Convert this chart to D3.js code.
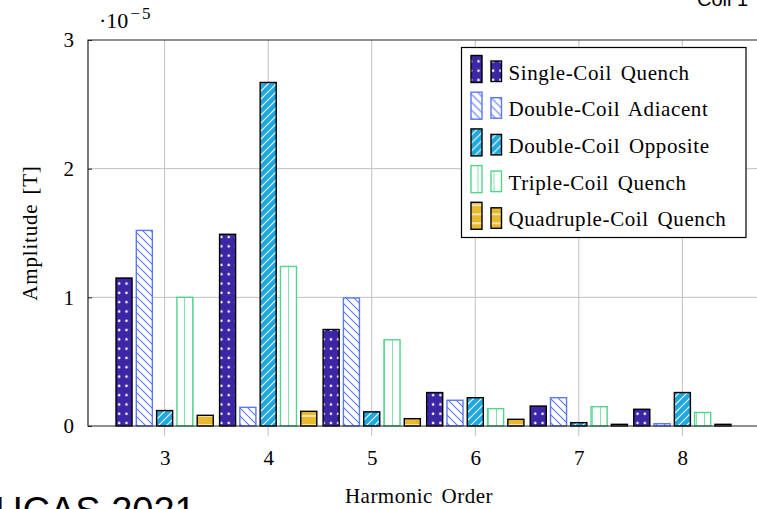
<!DOCTYPE html>
<html>
<head>
<meta charset="utf-8">
<script src="https://cdn.jsdelivr.net/npm/d3@7"></script>
<style>
  body { margin: 0; background: #fff; }
  svg { display: block; }
  text { font-family: "Liberation Serif", "Times New Roman", serif; fill: #000; }
</style>
</head>
<body>
<div id="chart"></div>
<script>
// harmonic orders on x, amplitudes in units of 1e-5 T
var harmonics = [3, 4, 5, 6, 7, 8];
var singleCoil   = [1.15, 1.49, 0.75, 0.26, 0.155, 0.13];
var doubleAdj    = [1.52, 0.145, 0.995, 0.20, 0.22, 0.018];
var doubleOpp    = [0.12, 2.67, 0.11, 0.22, 0.026, 0.26];
var tripleCoil   = [1.0, 1.24, 0.67, 0.135, 0.15, 0.105];
var quadCoil     = [0.083, 0.114, 0.057, 0.052, 0.013, 0.013];
var yTicks = [0, 1, 2, 3];
var seriesNames = ["Single-Coil Quench", "Double-Coil Adiacent", "Double-Coil Opposite",
                   "Triple-Coil Quench", "Quadruple-Coil Quench"];

var width = 757, height = 509;
var margin = { top: 40, right: -2, bottom: 83, left: 88 };

var svg = d3.select("#chart").append("svg")
    .attr("width", width)
    .attr("height", height);

var defs = svg.append("defs");

// fill patterns, roughly like the pgfplots ones
function linePattern(id, bg, stroke, w, h, path, sw) {
    var p = defs.append("pattern")
        .attr("id", id)
        .attr("patternUnits", "userSpaceOnUse")
        .attr("width", w).attr("height", h);
    p.append("rect").attr("width", w).attr("height", h).attr("fill", bg);
    p.append("path").attr("d", path).attr("stroke", stroke)
        .attr("stroke-width", sw).attr("fill", "none");
}

var dots = defs.append("pattern")
    .attr("id", "pDots")
    .attr("patternUnits", "userSpaceOnUse")
    .attr("width", 7.3).attr("height", 9.3)
    .attr("x", 115.5).attr("y", 0);
dots.append("rect").attr("width", 7.3).attr("height", 9.3).attr("fill", "#3c26a6");
dots.append("circle").attr("cx", 3.7).attr("cy", 4.6).attr("r", 1.3).attr("fill", "#fff");

linePattern("pNW", "#fff", "#5b78f5", 8, 8, "M-1,-1 L9,9 M-9,-1 L1,9 M7,-1 L17,9", 1.1);
linePattern("pNE", "#1fa8db", "#fff", 8, 8, "M-1,9 L9,-1 M-9,9 L1,-1 M7,9 L17,-1", 1.1);
linePattern("pVert", "#fff", "#52d48c", 8, 8, "M0,0 L0,8", 1.4);
linePattern("pHor", "#e8b92c", "#fff", 8, 9, "M0,2 L8,2", 1.2);

var series = [
    { name: seriesNames[0], values: singleCoil, fill: "url(#pDots)", stroke: "#000" },
    { name: seriesNames[1], values: doubleAdj,  fill: "url(#pNW)",   stroke: "#5b78f5" },
    { name: seriesNames[2], values: doubleOpp,  fill: "url(#pNE)",   stroke: "#000" },
    { name: seriesNames[3], values: tripleCoil, fill: "url(#pVert)", stroke: "#52d48c" },
    { name: seriesNames[4], values: quadCoil,   fill: "url(#pHor)",  stroke: "#000" }
];

var x = d3.scaleLinear()
    .domain([2.26, 8.74])
    .range([margin.left, width - margin.right]);

var y = d3.scaleLinear()
    .domain([0, 3])
    .range([height - margin.bottom, margin.top]);

var barStep = 0.196, barW = x(0.155) - x(0);

// grid
var grid = svg.append("g").attr("class", "grid");
grid.selectAll(".vgrid")
    .data(harmonics)
    .enter().append("line")
    .attr("x1", function(d){ return x(d); })
    .attr("x2", function(d){ return x(d); })
    .attr("y1", y(3)).attr("y2", y(0) + 10)
    .attr("stroke", "#c0c0c0").attr("stroke-width", 1);
grid.selectAll(".hgrid")
    .data(yTicks.slice(1, 3))
    .enter().append("line")
    .attr("x1", x.range()[0]).attr("x2", x.range()[1])
    .attr("y1", function(d){ return y(d); })
    .attr("y2", function(d){ return y(d); })
    .attr("stroke", "#c0c0c0").attr("stroke-width", 1);

// bars
series.forEach(function(s, si) {
    svg.append("g").selectAll("rect")
        .data(s.values)
        .enter().append("rect")
        .attr("x", function(d, i){ return x(harmonics[i] + (si - 2) * barStep) - barW / 2; })
        .attr("y", function(d){ return y(d); })
        .attr("width", barW)
        .attr("height", function(d){ return y(0) - y(d); })
        .attr("fill", s.fill)
        .attr("stroke", s.stroke)
        .attr("stroke-width", 1.4);
});

// axes frame
svg.append("path")
    .attr("d", "M" + x.range()[1] + "," + y(3) + " H" + x.range()[0] + " V" + y(0) + " H" + x.range()[1])
    .attr("fill", "none").attr("stroke", "#222").attr("stroke-width", 1.2);

var yAxis = svg.append("g")
    .attr("transform", "translate(" + margin.left + ",0)")
    .call(d3.axisLeft(y).tickValues(yTicks).tickFormat(d3.format("d")).tickSize(-4).tickPadding(14));
yAxis.select(".domain").remove();
yAxis.selectAll(".tick line").attr("stroke", "#222");
yAxis.selectAll("text").style("font-size", "21px").attr("font-family", null);

var xAxis = svg.append("g")
    .attr("transform", "translate(0," + y(0) + ")")
    .call(d3.axisBottom(x).tickValues(harmonics).tickFormat(d3.format("d")).tickSize(0).tickPadding(24));
xAxis.select(".domain").remove();
xAxis.selectAll("text").style("font-size", "21px").attr("font-family", null);

// axis labels
svg.append("text")
    .attr("x", 419).attr("y", 503)
    .attr("text-anchor", "middle")
    .style("font-size", "21px")
    .style("letter-spacing", "0.5px")
    .style("word-spacing", "3px")
    .text("Harmonic Order");

svg.append("text")
    .attr("transform", "translate(37,233) rotate(-90)")
    .attr("text-anchor", "middle")
    .style("font-size", "21px")
    .style("letter-spacing", "0.8px")
    .style("word-spacing", "3px")
    .text("Amplitude [T]");

var expo = svg.append("text").attr("x", 99).attr("y", 28).style("font-size", "22px");
expo.append("tspan").text("\u00b710");
expo.append("tspan").attr("dy", -9).attr("dx", 2).style("font-size", "17px").style("letter-spacing", "2px").text("\u22125");

// legend
var lg = svg.append("g").attr("transform", "translate(461.5,47.5)");
lg.append("rect")
    .attr("width", 284.5).attr("height", 190)
    .attr("fill", "#fff").attr("stroke", "#000").attr("stroke-width", 1.2);

series.forEach(function(s, i) {
    var g = lg.append("g").attr("transform", "translate(0," + (i * 36.7) + ")");
    g.append("rect").attr("x", 9.5).attr("y", 8).attr("width", 11).attr("height", 27)
        .attr("fill", s.fill).attr("stroke", s.stroke).attr("stroke-width", 1.4);
    g.append("rect").attr("x", 29.5).attr("y", 13.5).attr("width", 10.5).attr("height", 20.5)
        .attr("fill", s.fill).attr("stroke", s.stroke).attr("stroke-width", 1.4);
    g.append("text").attr("x", 47).attr("y", 32)
        .style("font-size", "21px")
        .style("letter-spacing", "0.6px")
        .style("word-spacing", "3px")
        .text(s.name);
});

// slide overlay text, clipped at the edges as in the source
svg.append("text")
    .attr("x", -5).attr("y", 524)
    .style("font-family", "'Liberation Sans', Arial, sans-serif")
    .style("font-size", "38px")
    .attr("fill", "#555")
    .text("UCAS 2021");
svg.append("text")
    .attr("x", 697).attr("y", 6)
    .style("font-family", "'Liberation Sans', Arial, sans-serif")
    .style("font-size", "20px")
    .attr("fill", "#333")
    .text("Coil 1");
</script>
</body>
</html>
